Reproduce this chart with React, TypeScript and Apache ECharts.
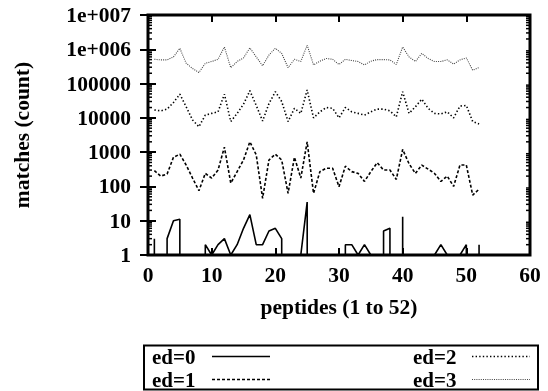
import React, { useEffect, useRef } from "react";
import * as echarts from "echarts";

const peptides = [1,2,3,4,5,6,7,8,9,10,11,12,13,14,15,16,17,18,19,20,21,22,23,24,25,26,27,28,29,30,31,32,33,34,35,36,37,38,39,40,41,42,43,44,45,46,47,48,49,50,51,52];

const ed0 = [3,0,3,10,11,0,0,0,2,1,2,3,1,2,6,15,2,2,5,6,3,0,0,1,35,0,0,0,0,0,2,2,1,2,1,0,5,6,0,13,0,0,0,0,1,2,1,0,1,2,0,2];
const ed1 = [290,200,230,710,870,420,175,75,240,175,300,1400,125,270,590,2000,830,45,590,870,590,63,710,175,2000,63,270,340,340,98,390,270,240,140,270,490,300,300,160,1200,460,240,420,320,240,140,200,100,420,420,56,83];
const ed2 = [17000,16000,18000,28000,49000,21000,8700,5500,12000,13500,15000,49000,7800,13500,25000,62000,23000,8100,26000,58000,30000,7800,19000,13500,65000,10000,15000,20000,19000,10000,20000,15000,13500,12000,15000,18000,18000,16000,10700,58000,13500,21000,35000,19000,13500,13000,15000,10000,22000,23000,7800,6600];
const ed3 = [510000,490000,490000,600000,1070000,390000,275000,210000,390000,440000,510000,1170000,290000,440000,560000,1100000,600000,330000,680000,1070000,760000,290000,510000,440000,1320000,350000,450000,540000,510000,360000,510000,470000,440000,350000,450000,500000,500000,490000,360000,1170000,600000,440000,760000,540000,440000,440000,490000,370000,490000,560000,245000,295000];

const seriesNames = ["ed=0", "ed=1", "ed=2", "ed=3"];
const xTicks = [0, 10, 20, 30, 40, 50, 60];
const yTickLabels = ["1", "10", "100", "1000", "10000", "100000", "1e+006", "1e+007"];
const minorMultipliers = [2, 3, 4, 5, 6, 7, 8, 9];

const FONT = "'Liberation Serif', 'Times New Roman', serif";
const FS = 21.5;
const LEGEND_FS = 21;

const lineStyles = [
  { type: "solid", width: 1.6, color: "#000" },
  { type: [3, 2], width: 1.6, color: "#000" },
  { type: [1.4, 2.2], width: 1.6, color: "#000" },
  { type: [1, 1.2], width: 1.1, color: "#444" },
];

export default function App() {
  const ref = useRef<HTMLDivElement>(null);
  useEffect(() => {
    if (!ref.current) return;
    const chart = echarts.init(ref.current, undefined, { renderer: "svg" });
    const allData = [ed0, ed1, ed2, ed3];
    // zero counts are plotted as a tiny value so lines drop to the bottom edge like log(0)
    const series: any[] = allData.map((arr, si) => ({
      name: seriesNames[si],
      type: "line",
      xAxisIndex: 0,
      yAxisIndex: 0,
      showSymbol: false,
      symbol: "none",
      clip: true,
      data: peptides.map((p, i) => [p, arr[i] === 0 ? 1e-300 : arr[i]]),
      lineStyle: lineStyles[si],
    }));
    const minorVals: number[][] = [];
    for (let k = 0; k < yTickLabels.length - 1; k++) {
      minorMultipliers.forEach((m) => minorVals.push([0, m * Math.pow(10, k)]));
    }
    series.push({
      type: "custom",
      silent: true,
      clip: false,
      xAxisIndex: 0,
      yAxisIndex: 0,
      data: minorVals,
      renderItem: (params: any, api: any) => {
        const p = api.coord([0, api.value(1)]);
        const cs = params.coordSys;
        return {
          type: "group",
          children: [
            { type: "line", shape: { x1: cs.x, y1: p[1], x2: cs.x + 4, y2: p[1] }, style: { stroke: "#000", lineWidth: 1.5 } },
            { type: "line", shape: { x1: cs.x + cs.width - 4, y1: p[1], x2: cs.x + cs.width, y2: p[1] }, style: { stroke: "#000", lineWidth: 1.5 } },
          ],
        };
      },
    });

    const legendX = [152, 413];
    const legendSampleX = [212, 472];
    const legendY = [356.5, 379.5];
    const legendGraphics: any[] = [
      { type: "rect", shape: { x: 144, y: 345.5, width: 394, height: 44 }, style: { fill: "#fff", stroke: "#000", lineWidth: 2 } },
    ];
    seriesNames.forEach((n, i) => {
      const col = i < 2 ? 0 : 1;
      const row = i % 2;
      legendGraphics.push({
        type: "text",
        x: legendX[col],
        y: legendY[row],
        style: { text: n, font: `bold ${LEGEND_FS}px ${FONT}`, fill: "#000", verticalAlign: "middle", align: "left" },
      });
      const ls = lineStyles[i];
      legendGraphics.push({
        type: "line",
        shape: { x1: legendSampleX[col], y1: legendY[row], x2: legendSampleX[col] + 58, y2: legendY[row] },
        style: { stroke: ls.color, lineWidth: ls.width, lineDash: ls.type === "solid" ? null : ls.type },
      });
    });

    const tickFont = { fontFamily: FONT, fontWeight: "bold", fontSize: FS, color: "#000" };
    chart.setOption({
      animation: false,
      grid: { left: 148, right: 18, top: 15, bottom: 136, show: true, borderColor: "#000", borderWidth: 3, backgroundColor: "transparent" },
      xAxis: [
        {
          type: "value", min: xTicks[0], max: xTicks[xTicks.length - 1], interval: 10, position: "bottom",
          axisLine: { show: false }, splitLine: { show: false },
          axisTick: { show: true, inside: true, length: 7, lineStyle: { color: "#000", width: 2 } },
          axisLabel: { ...tickFont, margin: 9 },
          name: "peptides (1 to 52)", nameLocation: "middle", nameGap: 41,
          nameTextStyle: { ...tickFont },
        },
        {
          type: "value", min: xTicks[0], max: xTicks[xTicks.length - 1], interval: 10, position: "top",
          axisLine: { show: false }, splitLine: { show: false }, axisLabel: { show: false },
          axisTick: { show: true, inside: true, length: 7, lineStyle: { color: "#000", width: 2 } },
        },
      ],
      yAxis: [
        {
          type: "log", logBase: 10, min: 1, max: 1e7, splitNumber: 7, position: "left",
          axisLine: { show: false }, splitLine: { show: false },
          axisTick: { show: true, inside: true, length: 8, lineStyle: { color: "#000", width: 2 } },
          axisLabel: {
            ...tickFont, margin: 17,
            formatter: (v: number) => yTickLabels[Math.round(Math.log10(v))] ?? "",
          },
          name: "matches (count)", nameLocation: "middle", nameGap: 115,
          nameTextStyle: { ...tickFont },
        },
        {
          type: "log", logBase: 10, min: 1, max: 1e7, splitNumber: 7, position: "right",
          axisLine: { show: false }, splitLine: { show: false }, axisLabel: { show: false },
          axisTick: { show: true, inside: true, length: 8, lineStyle: { color: "#000", width: 2 } },
        },
      ],
      graphic: legendGraphics,
      series,
    });
    return () => chart.dispose();
  }, []);
  return <div ref={ref} style={{ position: "fixed", left: 0, top: 0, width: 548, height: 391 }} />;
}
